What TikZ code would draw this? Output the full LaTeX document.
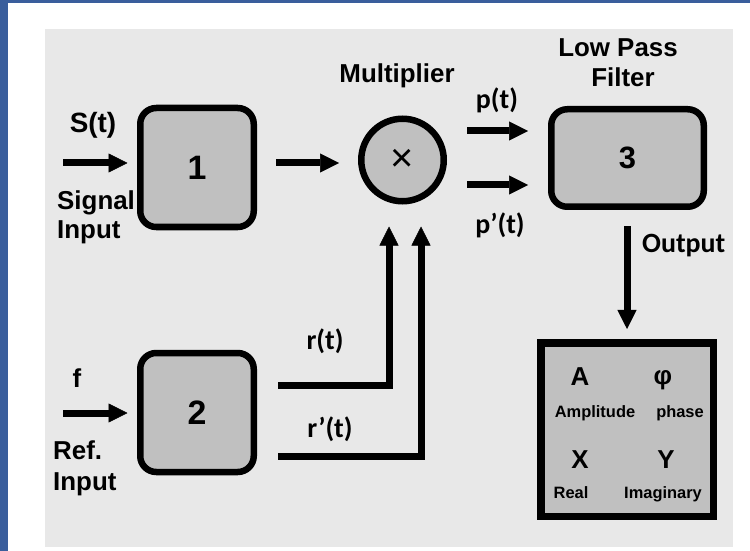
\documentclass[tikz,border=0pt]{standalone}
\usepackage{fontspec}
\setmainfont{Liberation Sans}
\newfontfamily\calfont{Carlito}
\usetikzlibrary{arrows.meta,calc}
\definecolor{panel}{HTML}{E8E8E8}
\definecolor{boxfill}{HTML}{C0C0C0}
\definecolor{frameblue}{HTML}{3A5E9C}
\begin{document}
\begin{tikzpicture}[x=1bp,y=-1bp,
  blk/.style={draw, line width=6.5bp, rounded corners=16bp, fill=boxfill, inner sep=0pt, font=\bfseries\fontsize{34}{40}\selectfont},
  arr/.style={line width=7bp, -{Triangle[length=19bp,width=19bp,line width=0.5bp]}},
  lbl/.style={font=\bfseries\fontsize{26}{30}\selectfont, inner sep=0pt},
  clbl/.style={font=\calfont\bfseries\fontsize{28}{32}\selectfont, inner sep=0pt},
  small/.style={font=\bfseries\fontsize{16.5}{20}\selectfont, inner sep=0pt},
  big/.style={font=\bfseries\fontsize{26}{30}\selectfont, inner sep=0pt}
]
\useasboundingbox (0,0) rectangle (750,551);
\fill[white] (0,0) rectangle (750,551);
\fill[frameblue] (0,0) rectangle (8,551);
\fill[frameblue] (0,0) rectangle (750,3);
\fill[panel] (45,29) rectangle (733,547);

% blocks
\node[blk, minimum width=113.5bp, minimum height=119bp] (b1) at (197,167.5) {1};
\node[blk, minimum width=113.5bp, minimum height=119bp] (b2) at (197,412.5) {2};
\node[blk, minimum width=152.5bp, minimum height=97.5bp, font=\bfseries\fontsize{31}{36}\selectfont] (b3) at (627.5,158) {3};
\node[draw, circle, line width=6.5bp, fill=boxfill, minimum size=82.5bp, inner sep=0pt, font=\fontsize{40}{40}\selectfont] (mul) at (402.5,160) {×};
\node[draw, line width=7.5bp, fill=boxfill, minimum width=172.5bp, minimum height=173.5bp, inner sep=0pt] (ob) at (627,429.5) {};

% labels
\node[lbl, anchor=base, font=\bfseries\fontsize{28}{32}\selectfont] (st) at (93,133) {S(t)};
\node[lbl, anchor=base west] (sig) at (57,210) {Signal};
\node[lbl, anchor=base west] (sinp) at (57,239) {Input};
\node[lbl, anchor=base] (fl) at (77,387) {f};
\node[lbl, anchor=base west] (ref) at (53,459) {Ref.};
\node[lbl, anchor=base west] (rinp) at (53,490) {Input};
\node[lbl, anchor=base] (mult) at (397,83) {Multiplier};
\node[lbl, anchor=base] (lp) at (618,57) {Low Pass};
\node[lbl, anchor=base] (filt) at (623,87) {Filter};
\node[clbl, anchor=base] (pt) at (497,109) {p(t)};
\node[clbl, anchor=base] (ppt) at (500,234) {p’(t)};
\node[clbl, anchor=base] (rt) at (325,349) {r(t)};
\node[clbl, anchor=base] (rpt) at (330,437) {r’(t)};
\node[clbl, anchor=base west] (outl) at (642,253) {Output};

\node[big, anchor=base] (A) at (580,385) {A};
\node[big, anchor=base] (phi) at (663,384) {φ};
\node[small, anchor=base] (amp) at (595,417) {Amplitude};
\node[small, anchor=base] (pha) at (680,417) {phase};
\node[big, anchor=base] (X) at (580,468) {X};
\node[big, anchor=base] (Y) at (666,468) {Y};
\node[small, anchor=base] (re) at (571,498) {Real};
\node[small, anchor=base] (im) at (663,498) {Imaginary};

% connectors
\coordinate (sin) at (63,163);
\coordinate (fin) at (63,413);
\coordinate (py) at (0,131);
\coordinate (ppy) at (0,185);
\coordinate (rc) at (389,385);
\coordinate (rpc) at (421,456);
\draw[arr, shorten >=9.5bp] (sin) -- (sin -| b1.west);
\draw[arr, shorten >=9.5bp] (fin) -- (fin -| b2.west);
\draw[arr, shorten <=19bp, shorten >=19bp] (sin -| b1.east) -- (sin -| mul.west);
\draw[arr, shorten <=20bp, shorten >=20bp] (mul.east |- py) -- (b3.west |- py);
\draw[arr, shorten <=20bp, shorten >=20bp] (mul.east |- ppy) -- (b3.west |- ppy);
\draw[arr, shorten <=21bp, shorten >=22bp] (b2.east |- rc) -| (rc |- mul.south);
\draw[arr, shorten <=21bp, shorten >=22bp] (b2.east |- rpc) -| (rpc |- mul.south);
\draw[arr, shorten <=16bp, shorten >=10bp] (ob.north |- b3.south) -- (ob.north);
\end{tikzpicture}
\end{document}
